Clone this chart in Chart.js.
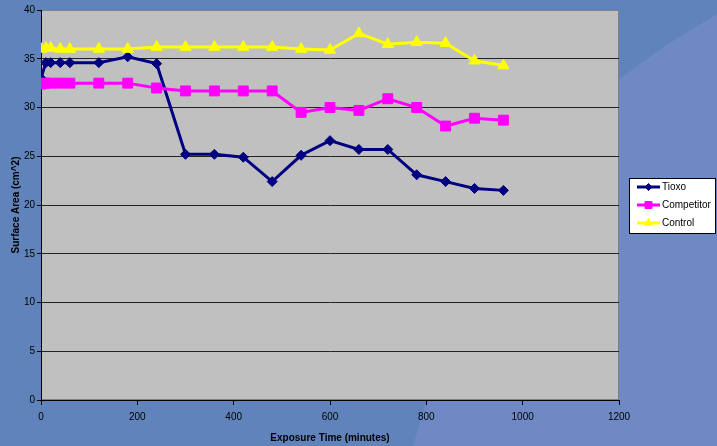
<!DOCTYPE html>
<html>
<head>
<meta charset="utf-8">
<title>Surface Area vs Exposure Time</title>
<script src="https://cdn.jsdelivr.net/npm/chart.js@4.4.0/dist/chart.umd.min.js"></script>
<style>
  html, body { margin: 0; padding: 0; }
  body { width: 717px; height: 446px; overflow: hidden; position: relative; background: #5f83ba; }
  /* lighter slide panel sweeping in from the lower right */
  #panel {
    position: absolute; left: 0; top: 0; width: 717px; height: 446px;
    background: #6f89c4;
    clip-path: polygon(717px 14px, 665px 46px, 618px 80px, 565px 145px, 510px 225px, 460px 315px, 428px 395px, 413px 446px, 717px 446px);
  }
  #wrap { position: absolute; left: 0; top: 0; width: 717px; height: 446px; }
</style>
</head>
<body>
<div id="panel"></div>
<div id="wrap"><canvas id="chart" width="717" height="446"></canvas></div>
<script>
// exposure times (minutes)
const minutes = [0, 10, 20, 40, 60, 120, 180, 240, 300, 360, 420, 480, 540, 600, 660, 720, 780, 840, 900, 960];

// surface area (cm^2) for each sample
const tioxo      = [33.0, 34.6, 34.6, 34.6, 34.6, 34.6, 35.2, 34.5, 25.2, 25.2, 24.9, 22.4, 25.1, 26.6, 25.7, 25.7, 23.1, 22.4, 21.7, 21.5];
const competitor = [32.4, 32.5, 32.5, 32.5, 32.5, 32.5, 32.5, 32.0, 31.7, 31.7, 31.7, 31.7, 29.5, 30.0, 29.7, 30.9, 30.0, 28.1, 28.9, 28.7];
const control    = [36.0, 36.1, 36.1, 36.0, 36.0, 36.0, 36.0, 36.2, 36.2, 36.2, 36.2, 36.2, 36.0, 35.9, 37.6, 36.5, 36.7, 36.6, 34.8, 34.3];

const seriesNames = ['Tioxo', 'Competitor', 'Control'];
const xTicks = [0, 200, 400, 600, 800, 1000, 1200];
const yTicks = [0, 5, 10, 15, 20, 25, 30, 35, 40];

Chart.defaults.font.family = "'Liberation Sans', Arial, sans-serif";
Chart.defaults.font.size = 10;
Chart.defaults.color = '#000';

function toPoints(values) {
  return values.map((v, i) => ({ x: minutes[i], y: v }));
}

// grey plot background and border, drawn under the series
const plotFrame = {
  id: 'plotFrame',
  beforeDraw(chart) {
    const { ctx, chartArea: a } = chart;
    ctx.save();
    ctx.fillStyle = '#c0c0c0';
    ctx.fillRect(a.left, a.top, a.right - a.left, a.bottom - a.top);
    ctx.strokeStyle = '#808080';
    ctx.lineWidth = 1;
    ctx.strokeRect(a.left + 0.5, a.top + 0.5, a.right - a.left - 1, a.bottom - a.top - 1);
    ctx.restore();
  }
};

// legend box with a line + marker sample for each series
const lineLegend = {
  id: 'lineLegend',
  afterDraw(chart) {
    const { ctx } = chart;
    const box = { x: 629.5, y: 178.5, w: 86, h: 55 };
    ctx.save();
    ctx.fillStyle = '#fff';
    ctx.fillRect(box.x, box.y, box.w, box.h);
    ctx.strokeStyle = '#000';
    ctx.lineWidth = 1;
    ctx.strokeRect(box.x, box.y, box.w, box.h);
    chart.data.datasets.forEach((ds, i) => {
      const y = 187 + i * 18;
      ctx.strokeStyle = ds.borderColor;
      ctx.lineWidth = 3;
      ctx.beginPath();
      ctx.moveTo(637, y);
      ctx.lineTo(660, y);
      ctx.stroke();
      ctx.fillStyle = ds.pointBackgroundColor;
      ctx.strokeStyle = ds.pointBorderColor;
      ctx.lineWidth = 1;
      Chart.helpers.drawPoint(ctx, {
        pointStyle: ds.pointStyle,
        radius: ds.pointRadius * 0.7,
        rotation: 0,
        borderWidth: 1
      }, 648.5, y);
      ctx.fillStyle = '#000';
      ctx.font = "10px 'Liberation Sans', Arial, sans-serif";
      ctx.textBaseline = 'middle';
      ctx.textAlign = 'left';
      ctx.fillText(seriesNames[i], 662, y + 0.5);
    });
    ctx.restore();
  }
};

new Chart(document.getElementById('chart'), {
  type: 'line',
  data: {
    datasets: [
      {
        label: seriesNames[0],
        data: toPoints(tioxo),
        borderColor: '#000080',
        pointBackgroundColor: '#000080',
        pointBorderColor: '#000080',
        pointStyle: 'rectRot',
        pointRadius: 5,
        order: 3
      },
      {
        label: seriesNames[1],
        data: toPoints(competitor),
        borderColor: '#ff00ff',
        pointBackgroundColor: '#ff00ff',
        pointBorderColor: '#ff00ff',
        pointStyle: 'rect',
        pointRadius: 7,
        order: 2
      },
      {
        label: seriesNames[2],
        data: toPoints(control),
        borderColor: '#ffff00',
        pointBackgroundColor: '#ffff00',
        pointBorderColor: '#ffff00',
        pointStyle: 'triangle',
        pointRadius: 6.5,
        order: 1
      }
    ]
  },
  options: {
    responsive: false,
    animation: false,
    elements: {
      line: { borderWidth: 3, tension: 0 },
      point: { borderWidth: 1, hoverRadius: 6 }
    },
    layout: { padding: { top: 10, right: 98, bottom: 0, left: 0 } },
    plugins: {
      legend: { display: false },
      tooltip: { enabled: false }
    },
    scales: {
      x: {
        type: 'linear',
        min: 0,
        max: 1200,
        afterBuildTicks(scale) { scale.ticks = xTicks.map(v => ({ value: v })); },
        afterFit(scale) { scale.height = 46; },
        ticks: { padding: 6, color: '#000', font: { size: 10 }, callback: v => String(v) },
        grid: { drawOnChartArea: false, drawTicks: true, tickLength: 5, tickColor: '#000' },
        border: { color: '#000', width: 1 },
        title: {
          display: true,
          text: 'Exposure Time (minutes)',
          color: '#000',
          font: { size: 10, weight: 'bold' },
          padding: { top: 0, bottom: 2 }
        }
      },
      y: {
        min: 0,
        max: 40,
        afterBuildTicks(scale) { scale.ticks = yTicks.map(v => ({ value: v })); },
        afterFit(scale) { scale.width = 41; },
        ticks: { padding: 2, color: '#000', font: { size: 10 }, callback: v => String(v) },
        grid: {
          color: ctx => (ctx.tick && ctx.tick.value === 40 ? 'rgba(0,0,0,0)' : '#222'),
          lineWidth: 1,
          drawTicks: true,
          tickLength: 4,
          tickColor: '#000'
        },
        border: { color: '#000', width: 1 },
        title: {
          display: true,
          text: 'Surface Area (cm^2)',
          color: '#000',
          font: { size: 10, weight: 'bold' },
          padding: { top: 10, bottom: 0 }
        }
      }
    }
  },
  plugins: [plotFrame, lineLegend]
});
</script>
</body>
</html>
